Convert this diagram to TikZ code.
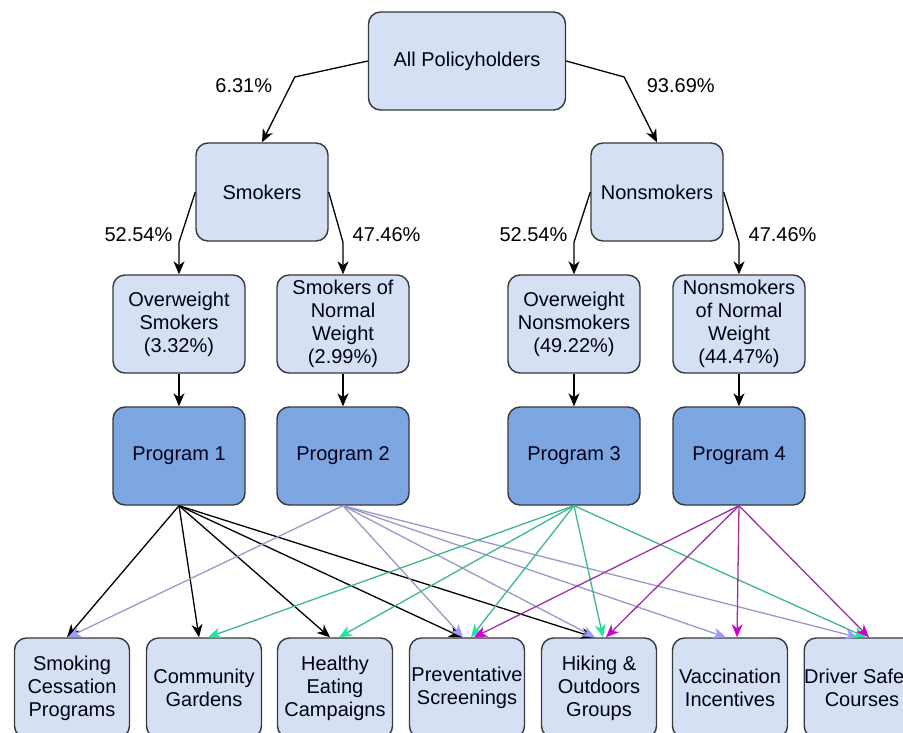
\documentclass[tikz,border=0pt]{standalone}
\usepackage{fontspec}
\setmainfont{Liberation Sans}
\usetikzlibrary{arrows.meta}
\definecolor{boxfill}{HTML}{D6E0F4}
\definecolor{progfill}{HTML}{7EA6E0}
\definecolor{boxline}{HTML}{36393D}
\definecolor{lavline}{HTML}{9A98C6}
\definecolor{lavtip}{HTML}{9C9CFF}
\definecolor{grnline}{HTML}{3DB88C}
\definecolor{grntip}{HTML}{1BE89C}
\definecolor{magline}{HTML}{9E2F9E}
\definecolor{magtip}{HTML}{D000D0}
\begin{document}
\begin{tikzpicture}[x=1pt,y=-1pt,
  font=\fontsize{20}{23}\selectfont,
  box/.style={draw=boxline, line width=1.4pt, rounded corners=12pt, fill=boxfill,
    align=center, inner sep=0pt, minimum width=132pt, minimum height=98pt, text=black!90!blue},
  prog/.style={box, fill=progfill},
  act/.style={box, minimum width=115pt, minimum height=100pt},
  flow/.style={line width=1.3pt, -{Stealth[length=13pt,width=11pt,inset=4pt]}},
  linkc/.style 2 args={line width=1.3pt, draw=#1, -{Stealth[length=13pt,width=11pt,inset=4pt,color=#2]}},
  pct/.style={inner sep=0pt}]
\useasboundingbox (0,0) rectangle (903,732);
\clip (0,0) rectangle (903,732);
\node[box, minimum width=197pt] (all) at (467,61) {All Policyholders};
\node[box] (smk) at (262,192) {Smokers};
\node[box] (nsm) at (657,192) {Nonsmokers};
\node[box] (ows) at (179,324) {Overweight\\Smokers\\(3.32\%)};
\node[box] (nws) at (343,324) {Smokers of\\Normal\\Weight\\(2.99\%)};
\node[box] (own) at (574,324) {Overweight\\Nonsmokers\\(49.22\%)};
\node[box] (nwn) at (739,324) {Nonsmokers\\of Normal\\Weight\\(44.47\%)};
\node[prog] (p1) at (179,456) {Program 1};
\node[prog] (p2) at (343,456) {Program 2};
\node[prog] (p3) at (574,456) {Program 3};
\node[prog] (p4) at (739,456) {Program 4};
\node[act] (sc) at (72,688) {Smoking\\Cessation\\Programs};
\node[act] (cg) at (204,688) {Community\\Gardens};
\node[act] (he) at (335,688) {Healthy\\Eating\\Campaigns};
\node[act] (ps) at (467,688) {Preventative\\Screenings};
\node[act] (ho) at (599,688) {Hiking \&\\Outdoors\\Groups};
\node[act] (vi) at (730,688) {Vaccination\\Incentives};
\node[act] (ds) at (862,688) {Driver Safety\\Courses};
\draw[flow] (all.west) -- ++(-73,16) node[pct, anchor=east, xshift=-22pt, yshift=-9pt] (l1) {6.31\%} -- (smk.north);
\draw[flow] (all.east) -- ++(58,16) node[pct, anchor=west, xshift=22pt, yshift=-9pt] (l2) {93.69\%} -- (nsm.north);
\draw[flow] (smk.west) -- ([yshift=32pt]ows.north) node[pct, anchor=east, xshift=-6pt, yshift=8pt] (l3) {52.54\%} -- (ows.north);
\draw[flow] (smk.east) -- ([yshift=32pt]nws.north) node[pct, anchor=west, xshift=9pt, yshift=8pt] (l4) {47.46\%} -- (nws.north);
\draw[flow] (nsm.west) -- ([yshift=32pt]own.north) node[pct, anchor=east, xshift=-6pt, yshift=8pt] (l5) {52.54\%} -- (own.north);
\draw[flow] (nsm.east) -- ([yshift=32pt]nwn.north) node[pct, anchor=west, xshift=9pt, yshift=8pt] (l6) {47.46\%} -- (nwn.north);
\draw[flow] (ows) -- (p1);
\draw[flow] (nws) -- (p2);
\draw[flow] (own) -- (p3);
\draw[flow] (nwn) -- (p4);
\foreach \t in {sc,cg,he,ps,ho} \draw[linkc={black}{black}] (p1.south) -- ([xshift=-5pt]\t.north);
\foreach \t in {sc,ps,ho,vi,ds} \draw[linkc={lavline}{lavtip}] (p2.south) -- ([xshift=-4pt]\t.north);
\foreach \t in {cg,he,ps,ho,ds} \draw[linkc={grnline}{grntip}] (p3.south) -- ([xshift=4pt]\t.north);
\foreach \t in {ps,ho,vi,ds} \draw[linkc={magline}{magtip}] (p4.south) -- ([xshift=7pt]\t.north);
\end{tikzpicture}
\end{document}
